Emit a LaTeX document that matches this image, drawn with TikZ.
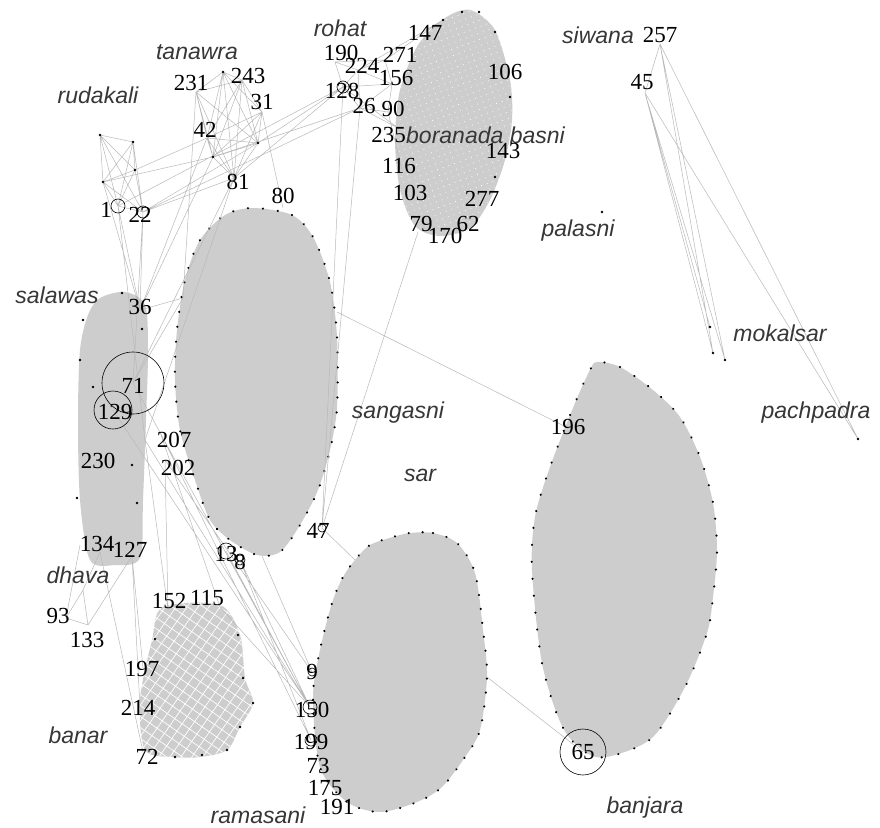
\documentclass[tikz,border=0pt]{standalone}
\usepackage{fontspec}
\setmainfont{Liberation Serif}
\newfontfamily\villagefont{Liberation Sans}
\usetikzlibrary{decorations.markings}
\usetikzlibrary{patterns.meta}

\definecolor{blobgray}{RGB}{205,205,205}
\definecolor{edgegray}{RGB}{185,185,185}
\definecolor{namegray}{RGB}{55,55,55}

\tikzset{
  edge/.style={edgegray, line width=0.5pt},
  blob/.style={fill=blobgray, draw=none},
  rimdots/.style={postaction={decorate, decoration={markings,
      mark=between positions 0 and 1 step #1 with {\fill[black] (0,0) circle (1.2pt);}}}},
  village/.style={font=\villagefont\itshape\fontsize{23}{25}\selectfont, text=namegray, inner sep=0pt},
  num/.style={font=\fontsize{23}{25}\selectfont, inner sep=0pt},
  vdot/.style={circle, fill=black, inner sep=0pt, minimum size=2.6pt},
  ring/.style={circle, draw=black, line width=0.6pt, inner sep=0pt},
}

\newcommand\banarrim{plot[smooth cycle] coordinates {(163,607) (220,605) (240,635) (245,678) (253,703) (240,727) (227,750) (200,757) (173,757) (145,750) (140,700) (152,640)}}
\newcommand\boranadarim{plot[smooth cycle] coordinates {(445,18) (470,10) (495,30) (510,80) (512,120) (505,160) (490,200) (470,228) (440,236) (415,226) (400,190) (395,140) (400,90) (418,45)}}

\begin{document}
\begin{tikzpicture}[x=1pt,y=-1pt]
\useasboundingbox (0,0) rectangle (880,827);
\fill[white] (0,0) rectangle (880,827);

% vertices
\coordinate (r1) at (100,135);
\coordinate (r2) at (133,142);
\coordinate (r3) at (135,170);
\coordinate (r4) at (103,182);
\coordinate (r5) at (118,206);
\coordinate (r6) at (143,212);
\coordinate (ta) at (223,72);
\coordinate (t231) at (196,92);
\coordinate (t243) at (242,80);
\coordinate (t31) at (262,112);
\coordinate (t42) at (207,138);
\coordinate (tb) at (258,143);
\coordinate (tc) at (213,157);
\coordinate (t81) at (234,178);
\coordinate (h190) at (335,62);
\coordinate (h224) at (358,70);
\coordinate (h271) at (385,60);
\coordinate (h156) at (392,84);
\coordinate (h128) at (343,87);
\coordinate (h26) at (360,108);
\coordinate (h90) at (388,112);
\coordinate (b235) at (398,128);
\coordinate (b147) at (443,20);
\coordinate (b116) at (402,170);
\coordinate (b79) at (418,232);
\coordinate (w257) at (660,44);
\coordinate (w45) at (645,93);
\coordinate (m1) at (710,327);
\coordinate (m2) at (713,353);
\coordinate (m3) at (725,360);
\coordinate (p1) at (858,439);
\coordinate (q1) at (602,212);
\coordinate (c80) at (283,208);
\coordinate (cR) at (337,312);
\coordinate (cB) at (262,556);
\coordinate (cL) at (183,298);
\coordinate (s36) at (140,310);
\coordinate (s71) at (133,383);
\coordinate (s129) at (113,410);
\coordinate (sR) at (145,440);
\coordinate (sL) at (80,545);
\coordinate (s134) at (100,552);
\coordinate (s127) at (132,556);
\coordinate (n207) at (160,432);
\coordinate (n202) at (165,460);
\coordinate (n13) at (226,551);
\coordinate (n8) at (240,560);
\coordinate (n47) at (322,528);
\coordinate (n9) at (312,672);
\coordinate (n150) at (310,707);
\coordinate (n199) at (311,740);
\coordinate (d1) at (83,590);
\coordinate (d93) at (66,618);
\coordinate (d133) at (88,625);
\coordinate (a152) at (168,610);
\coordinate (a115) at (220,607);
\coordinate (a197) at (143,668);
\coordinate (a214) at (140,707);
\coordinate (a72) at (143,752);
\coordinate (kTL) at (355,560);
\coordinate (kR) at (487,677);
\coordinate (j196) at (568,428);
\coordinate (j65) at (583,752);

% clusters
\path[blob] \boranadarim;
\path[pattern={Dots[distance=6pt,radius=0.55pt,angle=20]}, pattern color=white] \boranadarim;
\path[blob,rimdots=15pt] plot[smooth cycle] coordinates {(253,208) (292,215) (313,237) (330,282) (337,337) (337,407) (330,450) (318,490) (300,525) (280,552) (257,555) (230,540) (210,520) (195,480) (180,430) (175,380) (177,330) (185,280) (200,240) (225,215)};
\path[blob] plot[smooth cycle] coordinates {(100,298) (125,292) (145,305) (148,350) (146,420) (143,500) (140,558) (115,565) (90,560) (80,500) (78,420) (80,350) (88,315)};
\path[blob] \banarrim;
\path[pattern={Lines[angle=55,distance=9pt,line width=0.7pt]}, pattern color=white] \banarrim;
\path[pattern={Lines[angle=-35,distance=9pt,line width=0.7pt]}, pattern color=white] \banarrim;
\path[blob,rimdots=14pt] plot[smooth cycle] coordinates {(410,533) (433,533) (457,543) (475,573) (483,630) (487,677) (480,730) (465,757) (442,787) (417,802) (380,812) (347,802) (320,767) (313,697) (320,650) (332,603) (343,577) (355,560) (370,545) (393,537)};
\path[blob,rimdots=17pt] plot[smooth cycle] coordinates {(597,362) (620,367) (653,390) (680,417) (700,457) (713,503) (717,550) (713,597) (707,633) (685,687) (653,737) (615,755) (590,755) (563,728) (542,663) (532,570) (535,517) (550,467) (575,403) (590,370)};

% edges
\draw[edge] (r1) -- (r2) (r1) -- (r3) (r1) -- (r4) (r1) -- (r5) (r1) -- (r6)
  (r2) -- (r3) (r2) -- (r4) (r2) -- (r5) (r2) -- (r6) (r3) -- (r4) (r3) -- (r5)
  (r3) -- (r6) (r4) -- (r5) (r4) -- (r6) (r5) -- (r6);
\draw[edge] (r5) -- (h128) (r6) -- (h26) (r6) -- (t81) (r4) -- (tc) (r6) -- (tb)
  (r3) -- (t42) (r5) -- (s36) (r6) -- (s36) (r4) -- (s36) (r6) -- (s71) (r5) -- (sR);
\draw[edge] (ta) -- (t231) (ta) -- (t243) (ta) -- (t31) (ta) -- (t42) (ta) -- (tb)
  (ta) -- (tc) (ta) -- (t81) (t231) -- (t243) (t231) -- (t42) (t231) -- (tb)
  (t231) -- (tc) (t231) -- (t81) (t243) -- (t31) (t243) -- (t42) (t243) -- (tb)
  (t243) -- (tc) (t243) -- (t81) (t31) -- (t42) (t31) -- (tb) (t31) -- (tc)
  (t31) -- (t81) (t42) -- (tb) (t42) -- (tc) (t42) -- (t81) (tb) -- (tc)
  (tb) -- (t81) (tc) -- (t81);
\draw[edge] (tb) -- (h128) (tc) -- (h26) (t81) -- (h128) (t31) -- (c80)
  (t231) -- (cL) (t42) -- (s36) (tc) -- (s36) (t81) -- (s71) (t81) -- (sR);
\draw[edge] (h190) -- (h224) (h190) -- (h128) (h190) -- (h271) (h224) -- (h271)
  (h224) -- (h156) (h224) -- (h128) (h224) -- (h26) (h128) -- (h26) (h128) -- (h156)
  (h26) -- (h90) (h26) -- (h156) (h271) -- (h156) (h156) -- (h90) (h128) -- (b235)
  (h26) -- (b235) (h224) -- (b147) (h271) -- (b147) (h90) -- (b116);
\draw[edge] (h128) -- (n47) (h26) -- (n47) (b79) -- (n47) (cR) -- (j196)
  (n47) -- (kTL) (j65) -- (kR);
\draw[edge] (cL) -- (s36) (cL) -- (s71) (s127) -- (a197) (s127) -- (a214)
  (s134) -- (a72) (sR) -- (a152) (s71) -- (n150) (s129) -- (n150) (n207) -- (n199)
  (n202) -- (n9) (sR) -- (n150) (n13) -- (n150) (n8) -- (n199) (n8) -- (n150)
  (a115) -- (n150) (cB) -- (n9) (n202) -- (a152) (n207) -- (a115);
\draw[edge] (d1) -- (d93) (d1) -- (d133) (d93) -- (d133) (d93) -- (sL)
  (d133) -- (s127) (d1) -- (s134);
\draw[edge] (w257) -- (w45) (w257) -- (m2) (w257) -- (m3) (w257) -- (p1)
  (w45) -- (m1) (w45) -- (m2) (w45) -- (m3) (w45) -- (p1);

% vertex dots
\foreach \v in {r1,r2,r3,r4,ta,tb,tc,m1,m2,m3,p1,q1}
  \node[vdot] at (\v) {};
\node[vdot] (bd1) at (443,20) {};
\node[vdot] (bd2) at (462,12) {};
\node[vdot] (bd3) at (479,12) {};
\node[vdot] (bd4) at (495,32) {};
\node[vdot] (bd5) at (510,97) {};
\node[vdot] (bd6) at (495,177) {};
\node[vdot] (sd1) at (122,293) {};
\node[vdot] (sd2) at (83,320) {};
\node[vdot] (sd3) at (142,329) {};
\node[vdot] (sd4) at (80,360) {};
\node[vdot] (sd5) at (93,387) {};
\node[vdot] (sd6) at (132,465) {};
\node[vdot] (sd7) at (77,498) {};
\node[vdot] (sd8) at (137,503) {};
\node[vdot] (ad1) at (155,639) {};
\node[vdot] (ad2) at (238,635) {};
\node[vdot] (ad3) at (243,678) {};
\node[vdot] (ad4) at (253,703) {};
\node[vdot] (ad5) at (240,727) {};
\node[vdot] (ad6) at (227,750) {};
\node[vdot] (ad7) at (202,755) {};
\node[vdot] (ad8) at (175,757) {};

% big vertices
\node[ring, minimum size=62pt] (o71) at (s71) {};
\node[ring, minimum size=38pt] (o129) at (s129) {};
\node[ring, minimum size=46pt] (o65) at (j65) {};
\node[ring, minimum size=14pt] (o1) at (r5) {};
\node[ring, minimum size=12pt] (o22) at (r6) {};
\node[ring, minimum size=12pt] (o128) at (h128) {};
\node[ring, minimum size=16pt] (o13) at (n13) {};
\node[ring, minimum size=10pt] (o8) at (n8) {};
\node[ring, minimum size=8pt] (o47) at (n47) {};
\node[ring, minimum size=8pt] (o9) at (n9) {};
\node[ring, minimum size=14pt] (o150) at (n150) {};
\node[ring, minimum size=12pt] (o199) at (n199) {};

% village names
\node[village] (rudakali) at (98,95) {rudakali};
\node[village] (tanawra) at (197,52) {tanawra};
\node[village] (rohat) at (340,28) {rohat};
\node[village] (siwana) at (598,35) {siwana};
\node[village, anchor=west] (boranada) at (406,135) {boranada basni};
\node[village] (palasni) at (578,231) {palasni};
\node[village] (salawas) at (57,295) {salawas};
\node[village] (sangasni) at (398,413) {sangasni};
\node[village] (sar) at (420,475) {sar};
\node[village] (mokalsar) at (780,333) {mokalsar};
\node[village] (pachpadra) at (816,413) {pachpadra};
\node[village] (dhava) at (78,575) {dhava};
\node[village] (banar) at (78,735) {banar};
\node[village] (ramasani) at (258,815) {ramasani};
\node[village] (banjara) at (645,808) {banjara};

% vertex numbers
\node[num] (l231) at (191,83) {231};
\node[num] (l243) at (248,76) {243};
\node[num] (l31) at (262,102) {31};
\node[num] (l42) at (205,130) {42};
\node[num] (l81) at (238,182) {81};
\node[num] (l80) at (283,196) {80};
\node[num] (l147) at (425,33) {147};
\node[num] (l190) at (341,53) {190};
\node[num] (l224) at (362,66) {224};
\node[num] (l271) at (400,55) {271};
\node[num] (l156) at (396,78) {156};
\node[num] (l128) at (342,91) {128};
\node[num] (l26) at (364,106) {26};
\node[num] (l90) at (393,109) {90};
\node[num, anchor=east] (l235) at (406,135) {235};
\node[num] (l106) at (505,72) {106};
\node[num] (l143) at (503,151) {143};
\node[num] (l116) at (399,166) {116};
\node[num] (l103) at (410,193) {103};
\node[num] (l277) at (482,199) {277};
\node[num] (l79) at (421,224) {79};
\node[num] (l170) at (445,236) {170};
\node[num] (l62) at (468,224) {62};
\node[num] (l257) at (660,35) {257};
\node[num] (l45) at (642,82) {45};
\node[num] (l1) at (106,210) {1};
\node[num] (l22) at (140,215) {22};
\node[num] (l36) at (140,307) {36};
\node[num] (l71) at (133,386) {71};
\node[num] (l129) at (115,412) {129};
\node[num] (l207) at (174,440) {207};
\node[num] (l202) at (178,468) {202};
\node[num] (l230) at (98,461) {230};
\node[num] (l134) at (97,544) {134};
\node[num] (l127) at (130,550) {127};
\node[num] (l13) at (226,554) {13};
\node[num] (l8) at (240,562) {8};
\node[num] (l47) at (318,531) {47};
\node[num] (l93) at (58,616) {93};
\node[num] (l133) at (87,640) {133};
\node[num] (l152) at (169,601) {152};
\node[num] (l115) at (207,598) {115};
\node[num] (l197) at (142,669) {197};
\node[num] (l214) at (138,708) {214};
\node[num] (l72) at (147,757) {72};
\node[num] (l9) at (312,672) {9};
\node[num] (l150) at (312,710) {150};
\node[num] (l199) at (311,742) {199};
\node[num] (l73) at (318,766) {73};
\node[num] (l175) at (325,788) {175};
\node[num] (l191) at (337,807) {191};
\node[num] (l196) at (568,427) {196};
\node[num] (l65) at (583,752) {65};
\end{tikzpicture}
\end{document}
